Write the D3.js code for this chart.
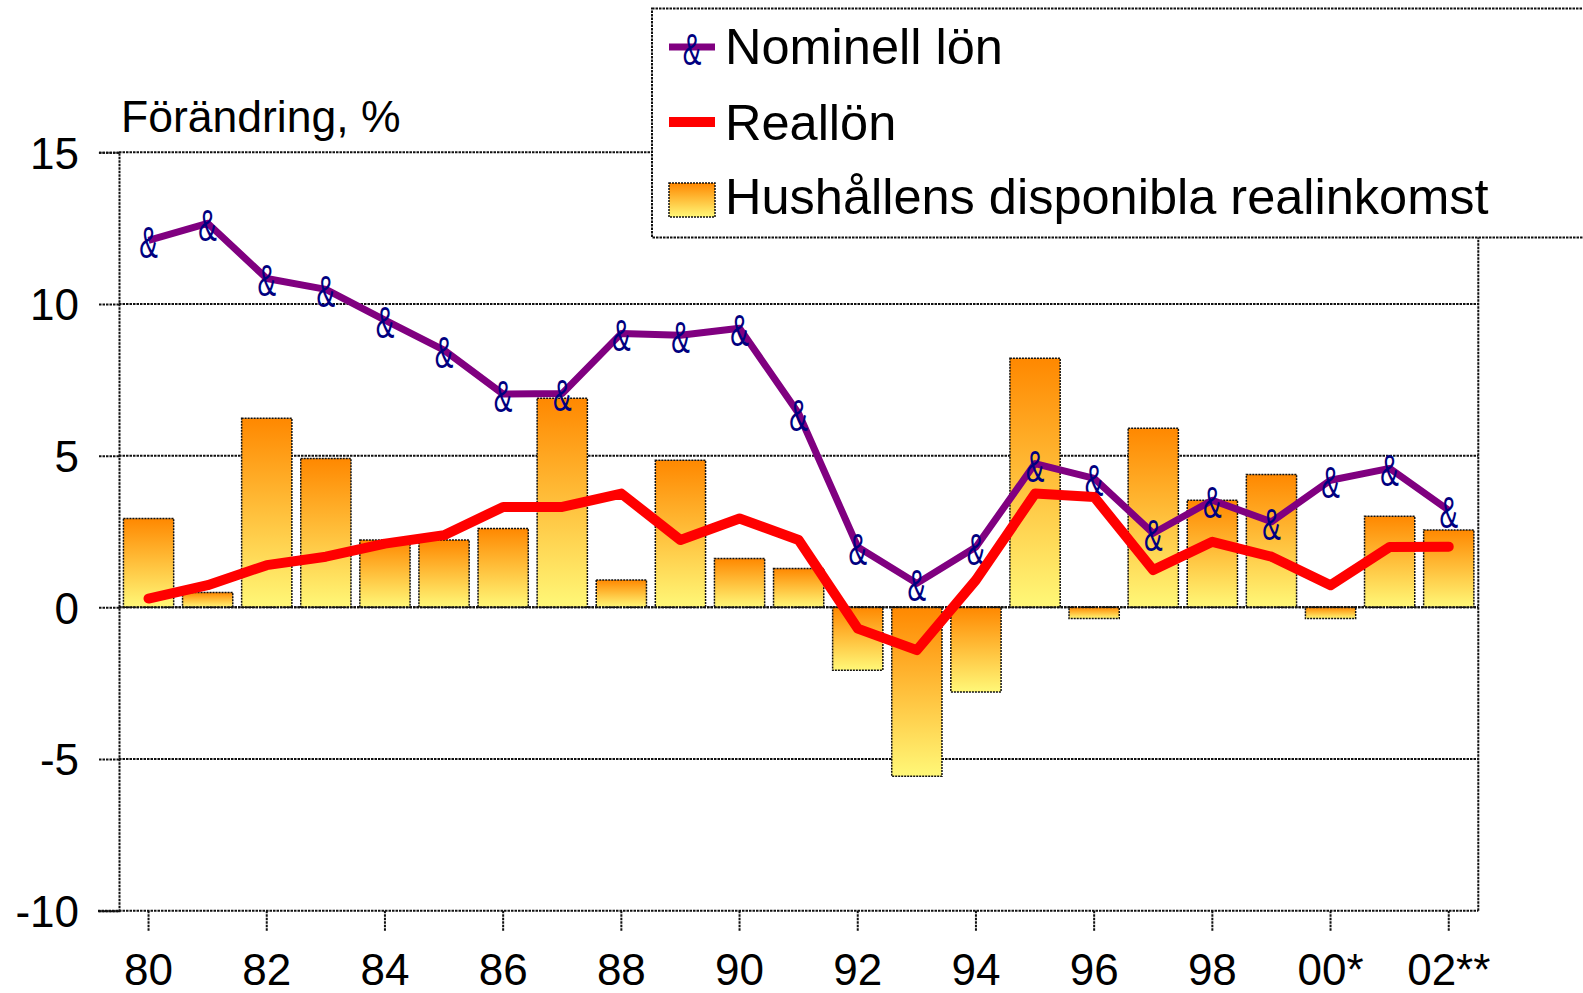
<!DOCTYPE html>
<html>
<head>
<meta charset="utf-8">
<script src="https://cdn.jsdelivr.net/npm/d3@7"></script>
<style>
  body { margin: 0; background: #ffffff; }
  text { font-family: "Liberation Sans", Arial, sans-serif; }
</style>
</head>
<body>
<div class="chart"></div>
<script>
// ************************ DATA *************************

// years on the x axis (19xx / 20xx)
const years = ["80","81","82","83","84","85","86","87","88","89","90","91",
  "92","93","94","95","96","97","98","99","00","01","02"]

// labels shown on every second year
const tickYears = ["80","82","84","86","88","90","92","94","96","98","00","02"]
const tickLabels = ["80","82","84","86","88","90","92","94","96","98","00*","02**"]

// Nominell lön, % change
const nominell = [12.1, 12.66, 10.84, 10.48, 9.47, 8.48, 7.03, 7.05, 9.03, 8.97, 9.2, 6.39,
  1.99, 0.79, 1.99, 4.74, 4.25, 2.44, 3.53, 2.82, 4.19, 4.58, 3.2]

// Reallön, % change
const reallon = [0.29, 0.73, 1.39, 1.67, 2.1, 2.38, 3.31, 3.31, 3.75, 2.22, 2.93, 2.22,
  -0.7, -1.41, 0.9, 3.75, 3.64, 1.23, 2.16, 1.67, 0.73, 1.99, 2.0]

// Hushållens disponibla realinkomst, % change
const disponibel = [2.93, 0.49, 6.23, 4.91, 2.22, 2.22, 2.6, 6.89, 0.9, 4.85, 1.61, 1.28,
  -2.07, -5.57, -2.79, 8.21, -0.37, 5.9, 3.53, 4.38, -0.37, 3.0, 2.55]

const yTicks = [-10, -5, 0, 5, 10, 15]

const legendNames = ["Nominell lön", "Reallön", "Hushållens disponibla realinkomst"]

// ************************ LAYOUT *************************

const width = 1583
const height = 993
const plot = { left: 119, right: 1478.3, top: 152.3, bottom: 910.7 }

const gridStroke = "#111111"
const dash = "2.5,1"

const svg = d3.select(".chart")
  .append("svg")
  .attr("width", width)
  .attr("height", height)

// bar gradient, orange on top to pale yellow below
const grad = svg.append("defs")
  .append("linearGradient")
  .attr("id", "barGrad")
  .attr("x1", 0).attr("y1", 0)
  .attr("x2", 0).attr("y2", 1)
grad.append("stop").attr("offset", "0%").attr("stop-color", "#ff8800")
grad.append("stop").attr("offset", "100%").attr("stop-color", "#fff878")

// scales
const xScale = d3.scaleBand()
  .domain(years)
  .range([plot.left, plot.right])
  .paddingInner(0.15)
  .paddingOuter(0.075)

const xMid = (d) => xScale(d) + xScale.bandwidth() / 2

const yScale = d3.scaleLinear()
  .domain([-10, 15])
  .range([plot.bottom, plot.top])

// gridlines
svg.append("g")
  .selectAll("line")
  .data(yTicks.filter((d) => d > -10))
  .enter()
  .append("line")
  .attr("x1", plot.left)
  .attr("x2", plot.right)
  .attr("y1", (d) => yScale(d))
  .attr("y2", (d) => yScale(d))
  .attr("stroke", gridStroke)
  .attr("stroke-width", 2)
  .attr("stroke-dasharray", dash)

// right border of plot area
svg.append("line")
  .attr("x1", plot.right).attr("x2", plot.right)
  .attr("y1", plot.top).attr("y2", plot.bottom)
  .attr("stroke", gridStroke)
  .attr("stroke-width", 2)
  .attr("stroke-dasharray", dash)

// bars
svg.append("g")
  .selectAll("rect")
  .data(disponibel)
  .enter()
  .append("rect")
  .attr("x", (d, i) => xScale(years[i]))
  .attr("y", (d) => yScale(Math.max(0, d)))
  .attr("width", xScale.bandwidth())
  .attr("height", (d) => Math.abs(yScale(d) - yScale(0)))
  .attr("fill", "url(#barGrad)")
  .attr("stroke", gridStroke)
  .attr("stroke-width", 1.5)
  .attr("stroke-dasharray", "2,1")

// zero line on top of bars
svg.append("line")
  .attr("x1", plot.left).attr("x2", plot.right)
  .attr("y1", yScale(0)).attr("y2", yScale(0))
  .attr("stroke", gridStroke)
  .attr("stroke-width", 2)
  .attr("stroke-dasharray", dash)

// y axis
const yAxis = d3.axisLeft(yScale)
  .tickValues(yTicks)
  .tickFormat((d) => String(d))
  .tickSize(21)
  .tickPadding(19)
const yG = svg.append("g")
  .attr("transform", "translate(" + plot.left + ",0)")
  .call(yAxis)
yG.select(".domain")
  .attr("stroke", gridStroke)
  .attr("stroke-width", 2)
  .attr("stroke-dasharray", dash)
yG.selectAll(".tick line")
  .attr("stroke", gridStroke)
  .attr("stroke-width", 2)
  .attr("stroke-dasharray", dash)
yG.selectAll(".tick text")
  .attr("dy", "0.36em")
  .attr("fill", "#000")
  .style("font-size", "44px")
  .style("font-family", "Liberation Sans, Arial, sans-serif")

// x axis
const xAxis = d3.axisBottom(xScale)
  .tickValues(tickYears)
  .tickFormat((d) => tickLabels[tickYears.indexOf(d)])
  .tickSize(21)
  .tickPadding(22)
const xG = svg.append("g")
  .attr("transform", "translate(0," + plot.bottom + ")")
  .call(xAxis)
xG.select(".domain").remove()
xG.append("line")
  .attr("x1", plot.left - 21).attr("x2", plot.right)
  .attr("stroke", gridStroke)
  .attr("stroke-width", 2)
  .attr("stroke-dasharray", dash)
xG.selectAll(".tick line")
  .attr("stroke", gridStroke)
  .attr("stroke-width", 2)
  .attr("stroke-dasharray", dash)
xG.selectAll(".tick text")
  .attr("fill", "#000")
  .style("font-size", "44px")
  .style("font-family", "Liberation Sans, Arial, sans-serif")

// lines
const line = d3.line()
  .x((d, i) => xMid(years[i]))
  .y((d) => yScale(d))

svg.append("path")
  .datum(nominell)
  .attr("d", line)
  .attr("fill", "none")
  .attr("stroke", "#800080")
  .attr("stroke-width", 7)
  .attr("stroke-linejoin", "round")

// ampersand markers (symbol font in the original)
svg.append("g")
  .selectAll("text")
  .data(nominell)
  .enter()
  .append("text")
  .attr("transform", (d, i) => "translate(" + xMid(years[i]) + "," + (yScale(d) + 18) + ") scale(0.62,1)")
  .attr("text-anchor", "middle")
  .attr("fill", "#000080")
  .style("font-size", "45px")
  .text("&")

svg.append("path")
  .datum(reallon)
  .attr("d", line)
  .attr("fill", "none")
  .attr("stroke", "#ff0000")
  .attr("stroke-width", 10)
  .attr("stroke-linejoin", "round")
  .attr("stroke-linecap", "round")

// axis title
svg.append("text")
  .attr("x", 121)
  .attr("y", 131.5)
  .style("font-size", "44.5px")
  .text("Förändring, %")

// legend
const legend = svg.append("g")
legend.append("rect")
  .attr("x", 652)
  .attr("y", 8.5)
  .attr("width", 1000)
  .attr("height", 229)
  .attr("fill", "#ffffff")
  .attr("stroke", gridStroke)
  .attr("stroke-width", 2)
  .attr("stroke-dasharray", dash)

legend.append("line")
  .attr("x1", 669).attr("x2", 715)
  .attr("y1", 47).attr("y2", 47)
  .attr("stroke", "#800080")
  .attr("stroke-width", 7)
legend.append("text")
  .attr("transform", "translate(692,65) scale(0.62,1)")
  .attr("text-anchor", "middle")
  .attr("fill", "#000080")
  .style("font-size", "45px")
  .text("&")

legend.append("line")
  .attr("x1", 669).attr("x2", 715)
  .attr("y1", 122).attr("y2", 122)
  .attr("stroke", "#ff0000")
  .attr("stroke-width", 10)

legend.append("rect")
  .attr("x", 669)
  .attr("y", 183)
  .attr("width", 46)
  .attr("height", 34)
  .attr("fill", "url(#barGrad)")
  .attr("stroke", gridStroke)
  .attr("stroke-width", 1.5)
  .attr("stroke-dasharray", "2,1")

legend.selectAll(".legText")
  .data(legendNames)
  .enter()
  .append("text")
  .attr("class", "legText")
  .attr("x", 725)
  .attr("y", (d, i) => [63.5, 140, 213.5][i])
  .style("font-size", "50.5px")
  .text((d) => d)
</script>
</body>
</html>
